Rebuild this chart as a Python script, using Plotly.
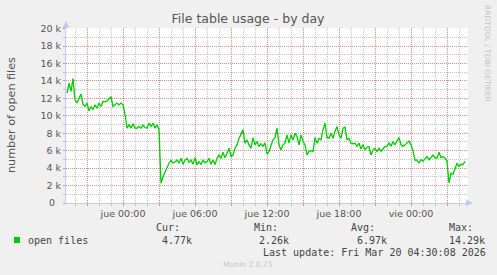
import plotly.graph_objects as go
import pandas as pd

# ---------------- data ----------------
series_name = "open files"
start_time = "2026-03-18 19:20"
step_minutes = 10
open_files_k = [
    12.6, 13.75, 12.8, 14.29, 11.84, 11.5, 12.0, 12.5, 11.3, 11.1,
    11.46, 10.57, 11.07, 10.7, 11.26, 10.88, 11.46, 11.07, 11.65, 11.6,
    11.72, 12.03, 12.2, 11.07, 11.26, 11.46, 11.26, 11.46, 11.26, 10.2,
    8.6, 8.97, 8.6, 9.1, 8.6, 8.58, 8.8, 8.58, 8.97, 8.66,
    8.58, 9.16, 8.77, 9.16, 8.6, 8.97, 8.39, 2.26, 3.0, 3.6,
    4.2, 4.56, 4.9, 4.6, 4.7, 4.94, 4.56, 5.13, 4.44, 4.9,
    5.13, 4.67, 4.94, 4.44, 5.2, 4.37, 4.75, 4.44, 4.94, 4.6,
    4.75, 5.13, 4.44, 4.94, 4.4, 5.13, 5.5, 5.13, 5.82, 5.2,
    5.71, 6.28, 5.33, 5.5, 6.28, 6.67, 7.4, 8.0, 8.39, 6.86,
    7.24, 6.67, 6.28, 7.5, 6.67, 7.05, 6.47, 6.8, 6.5, 6.9,
    5.6, 5.9, 6.47, 7.24, 7.5, 8.6, 6.67, 6.1, 6.67, 6.86,
    7.82, 6.86, 7.82, 7.24, 8.0, 7.62, 6.67, 7.82, 7.05, 6.67,
    5.52, 5.9, 6.0, 5.9, 7.5, 6.86, 7.43, 7.24, 8.4, 9.16,
    7.5, 7.43, 8.0, 7.43, 8.2, 8.77, 7.82, 7.43, 8.58, 8.7,
    7.24, 7.43, 6.86, 6.8, 6.86, 6.5, 6.86, 6.2, 6.7, 6.1,
    6.4, 6.47, 5.5, 6.1, 6.28, 5.9, 6.28, 5.95, 6.2, 6.5,
    6.47, 6.9, 6.5, 7.05, 6.7, 7.05, 7.5, 6.67, 6.5, 6.67,
    6.9, 7.1, 6.67, 6.0, 4.9, 4.94, 4.56, 5.0, 4.8, 5.1,
    5.33, 4.94, 5.2, 5.5, 5.2, 5.13, 5.82, 5.2, 5.33, 5.13,
    4.8, 2.3, 3.41, 3.3, 3.9, 4.56, 4.2, 4.44, 4.4, 4.77,
]
y_tick_values = [0, 2000, 4000, 6000, 8000, 10000, 12000, 14000, 16000, 18000, 20000]
y_tick_labels = ["0\u00a0\u00a0", "2 k", "4 k", "6 k", "8 k", "10 k", "12 k", "14 k",
                 "16 k", "18 k", "20 k"]
x_tick_values = ["2026-03-18 21:00", "2026-03-19 00:00", "2026-03-19 03:00",
                 "2026-03-19 06:00", "2026-03-19 09:00", "2026-03-19 12:00",
                 "2026-03-19 15:00", "2026-03-19 18:00", "2026-03-19 21:00",
                 "2026-03-20 00:00", "2026-03-20 03:00"]
x_tick_labels = ["", "jue 00:00", "", "jue 06:00", "", "jue 12:00", "",
                 "jue 18:00", "", "vie 00:00", ""]
stats_labels = ["Cur:", "Min:", "Avg:", "Max:"]
stats_values = ["4.77k", "2.26k", "6.97k", "14.29k"]
last_update = "Last update: Fri Mar 20 04:30:08 2026"

# ---------------- figure ----------------
times = pd.date_range(start_time, periods=len(open_files_k), freq=f"{step_minutes}min")
values = [v * 1000 for v in open_files_k]

W, H = 497, 275
L, R, T, B = 66, 29, 28, 72
PW, PH = W - L - R, H - T - B


def px(x):
    return (x - L) / PW


def py(y):
    return (H - B - y) / PH


fig = go.Figure()
fig.add_trace(go.Scatter(x=times, y=values, mode="lines",
                         line=dict(color="#00CC00", width=1.3),
                         name=series_name, showlegend=False, hoverinfo="skip"))

red_grid = "rgba(225,90,90,0.55)"
gray_grid = "rgba(130,130,130,0.45)"
axis_col = "#C8C8F4"
tick_font = dict(family="DejaVu Sans", size=9.5, color="#555555")

fig.update_layout(
    width=W, height=H,
    margin=dict(l=L, r=R, t=T, b=B, autoexpand=False),
    paper_bgcolor="#F0F0F0", plot_bgcolor="white",
    title=dict(text="File table usage - by day", xref="container", x=248 / W,
               xanchor="center", yref="container", y=1 - 19 / H, yanchor="middle",
               font=dict(family="DejaVu Sans", size=12.5, color="#555555")),
    xaxis=dict(type="date",
               range=["2026-03-18 19:15", "2026-03-20 04:45"],
               tickmode="array", tickvals=x_tick_values, ticktext=x_tick_labels,
               showgrid=True, gridcolor=red_grid, griddash="1px,1px", gridwidth=1,
               ticks="outside", ticklen=2, tickcolor=red_grid,
               showline=True, linecolor=axis_col, linewidth=1,
               tickfont=tick_font, zeroline=False,
               minor=dict(dtick=3600000, tick0="2026-03-18 20:00", showgrid=True,
                          gridcolor=gray_grid, griddash="1px,1px", gridwidth=1,
                          ticks="outside", ticklen=2, tickcolor=gray_grid)),
    yaxis=dict(range=[0, 20080],
               tickmode="array", tickvals=y_tick_values, ticktext=y_tick_labels,
               showgrid=True, gridcolor=red_grid, griddash="1px,1px", gridwidth=1,
               ticks="outside", ticklen=2, tickcolor=gray_grid,
               showline=True, linecolor=axis_col, linewidth=1,
               tickfont=tick_font, zeroline=False,
               minor=dict(dtick=1000, tick0=0, showgrid=True,
                          gridcolor=gray_grid, griddash="1px,1px", gridwidth=1,
                          ticks="outside", ticklen=2, tickcolor=gray_grid)),
)

annotations = []
# y axis title
annotations.append(dict(text="number of open files", x=px(11), y=py(115),
                        xref="paper", yref="paper", showarrow=False, textangle=-90,
                        xanchor="center", yanchor="middle",
                        font=dict(family="DejaVu Sans", size=11.2, color="#555555")))
# rrdtool credit
annotations.append(dict(text="RRDTOOL / TOBI OETIKER", x=px(488), y=py(53),
                        xref="paper", yref="paper", showarrow=False, textangle=90,
                        xanchor="center", yanchor="middle",
                        font=dict(family="DejaVu Sans", size=7.5, color="#C4C4C4")))
# axis arrows
annotations.append(dict(x=px(473), y=py(203), ax=-8, ay=0, xref="paper", yref="paper",
                        text="", showarrow=True, arrowhead=2, arrowsize=1.4,
                        arrowwidth=1, arrowcolor=axis_col, standoff=0))
annotations.append(dict(x=px(66), y=py(21), ax=0, ay=8, xref="paper", yref="paper",
                        text="", showarrow=True, arrowhead=2, arrowsize=1.4,
                        arrowwidth=1, arrowcolor=axis_col, standoff=0))

mono = dict(family="DejaVu Sans Mono", size=10, color="#444444")
annotations.append(dict(text=series_name, x=px(26), y=py(240), xref="paper", yref="paper",
                        showarrow=False, xanchor="left", yanchor="middle", font=mono))
label_x = [154, 252, 349, 447]
value_x = [160, 257, 355, 447]
for lab, val, lx, vx in zip(stats_labels, stats_values, label_x, value_x):
    annotations.append(dict(text=lab, x=px(lx), y=py(227.5), xref="paper", yref="paper",
                            showarrow=False, xanchor="left", yanchor="middle", font=mono))
    annotations.append(dict(text=val, x=px(vx), y=py(240), xref="paper", yref="paper",
                            showarrow=False, xanchor="left", yanchor="middle", font=mono))
annotations.append(dict(text=last_update, x=px(261), y=py(252), xref="paper", yref="paper",
                        showarrow=False, xanchor="left", yanchor="middle", font=mono))
annotations.append(dict(text="Munin 2.0.75", x=px(248), y=py(264), xref="paper", yref="paper",
                        showarrow=False, xanchor="center", yanchor="middle",
                        font=dict(family="DejaVu Sans", size=7.6, color="#C8C8C8")))
fig.update_layout(annotations=annotations)

fig.add_shape(type="rect", xref="paper", yref="paper",
              x0=px(14), x1=px(20), y0=py(243), y1=py(237),
              fillcolor="#00CC00", line=dict(width=0))

fig.write_html("out.html")
